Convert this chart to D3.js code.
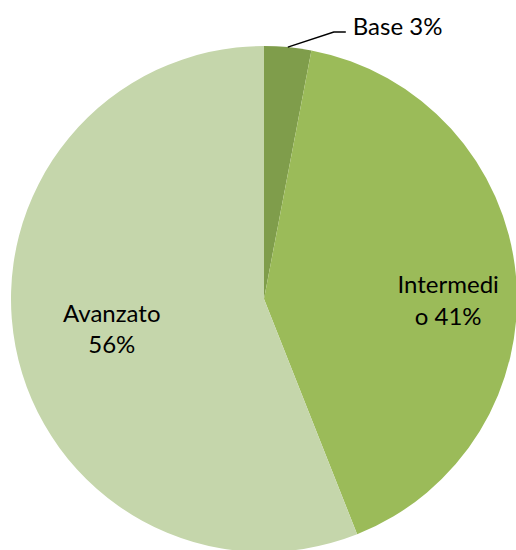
<!DOCTYPE html>
<html>
<head>
<meta charset="utf-8">
<script src="https://cdn.jsdelivr.net/npm/d3@7"></script>
<style>
  body { margin: 0; background: #fff; }
  text { font-family: Lato, "Open Sans", sans-serif; fill: #000; }
</style>
</head>
<body>
<div id="chart"></div>
<script>
// data
var categories = ["Base", "Intermedio", "Avanzato"];
var values = [3, 41, 56];
var colors = ["#7f9d4b", "#9bbb59", "#c5d6ab"];

var width = 516, height = 550,
    cx = 264, cy = 299, radius = 253;

var svg = d3.select("#chart").append("svg")
    .attr("width", width)
    .attr("height", height);

var g = svg.append("g")
    .attr("transform", "translate(" + cx + "," + cy + ")");

var pie = d3.pie().sort(null).value(function(d) { return d; });
var arcs = pie(values);

var arc = d3.arc().innerRadius(0).outerRadius(radius);

g.selectAll("path.slice")
    .data(arcs)
    .enter().append("path")
    .attr("class", "slice")
    .attr("d", arc)
    .attr("fill", function(d, i) { return colors[i]; });

// labels: inside for big slices, outside with leader for the small one
var fs = 24;
function pointAt(a, r) { return [r * Math.sin(a), -r * Math.cos(a)]; }
function mid(d) { return (d.startAngle + d.endAngle) / 2; }

// Base (outside)
var b = arcs[0];
var p0 = pointAt(mid(b), radius);
var elbow = [p0[0] + 46, -267];
var p2 = [elbow[0] + 12, elbow[1]];
g.append("polyline")
    .attr("points", [p0, elbow, p2].map(function(p) { return p.join(","); }).join(" "))
    .attr("fill", "none")
    .attr("stroke", "#000")
    .attr("stroke-width", 1.5);
g.append("text")
    .attr("x", p2[0] + 7)
    .attr("y", p2[1] + 3)
    .attr("font-size", fs)
    .text(categories[0] + " " + values[0] + "%");

// Intermedio (wrapped)
var m = arcs[1];
var pm = pointAt(mid(m), 185);
var tm = g.append("text")
    .attr("text-anchor", "middle")
    .attr("font-size", fs);
tm.append("tspan").attr("x", pm[0]).attr("y", pm[1] + 11).text("Intermedi");
tm.append("tspan").attr("x", pm[0]).attr("y", pm[1] + 43).text("o " + values[1] + "%");

// Avanzato
var a = arcs[2];
var pa = pointAt(mid(a), 155);
var ta = g.append("text")
    .attr("text-anchor", "middle")
    .attr("font-size", fs);
ta.append("tspan").attr("x", pa[0]).attr("y", pa[1] - 6).text(categories[2]);
ta.append("tspan").attr("x", pa[0]).attr("y", pa[1] + 25).text(values[2] + "%");
</script>
</body>
</html>
